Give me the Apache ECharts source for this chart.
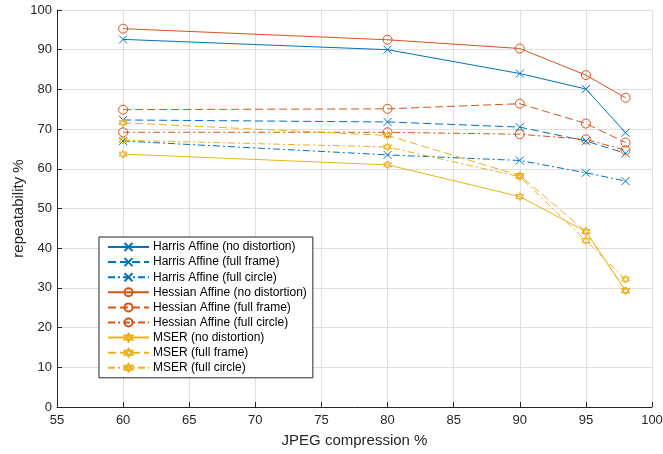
<!DOCTYPE html>
<html>
<head>
<meta charset="utf-8">
<script src="https://cdn.jsdelivr.net/npm/echarts@6/dist/echarts.min.js"></script>
<style>
  html, body { margin: 0; padding: 0; background: #fff; }
  #chart { width: 663px; height: 454px; }
</style>
</head>
<body>
<div id="chart"></div>
<script>
// JPEG quality levels on the x axis
const quality = [60, 80, 90, 95, 98];

// repeatability %, one array per detector / distortion case
const harrisNone   = [92.6, 90.0, 84.0, 80.1, 69.1];
const harrisFrame  = [72.3, 71.8, 70.5, 67.0, 63.9];
const harrisCircle = [67.0, 63.5, 62.1, 59.0, 56.9];
const hessNone     = [95.3, 92.5, 90.3, 83.6, 77.9];
const hessFrame    = [74.9, 75.1, 76.4, 71.4, 66.6];
const hessCircle   = [69.2, 69.2, 68.7, 67.4, 64.7];
const mserNone     = [63.7, 61.0, 53.0, 44.2, 29.3];
const mserFrame    = [71.6, 68.4, 58.3, 44.2, 29.3];
const mserCircle   = [67.2, 65.5, 58.0, 41.9, 32.2];

const seriesNames = [
    'Harris Affine (no distortion)',
    'Harris Affine (full frame)',
    'Harris Affine (full circle)',
    'Hessian Affine (no distortion)',
    'Hessian Affine (full frame)',
    'Hessian Affine (full circle)',
    'MSER (no distortion)',
    'MSER (full frame)',
    'MSER (full circle)'
];
const seriesValues = [harrisNone, harrisFrame, harrisCircle, hessNone, hessFrame, hessCircle, mserNone, mserFrame, mserCircle];

const BLUE = '#0072BD', ORANGE = '#D95319', YELLOW = '#EDB120';
const CROSS = 'path://M0,0L10,10M10,0L0,10';
const HEXAGRAM = 'path://M5,0L9.33,7.5L0.67,7.5ZM5,10L0.67,2.5L9.33,2.5Z';
const DASH = [8, 4];
const DASHDOT = [7, 3, 2, 3];

// colour / marker / line style for each series
const looks = [
    [BLUE, CROSS, 'solid'], [BLUE, CROSS, DASH], [BLUE, CROSS, DASHDOT],
    [ORANGE, 'circle', 'solid'], [ORANGE, 'circle', DASH], [ORANGE, 'circle', DASHDOT],
    [YELLOW, HEXAGRAM, 'solid'], [YELLOW, HEXAGRAM, DASH], [YELLOW, HEXAGRAM, DASHDOT]
];

const FONT = 'Liberation Sans';
const TXT = '#262626';

const chart = echarts.init(document.getElementById('chart'));

const series = seriesNames.map((name, i) => {
    const [c, sym, lt] = looks[i];
    return {
        name: name,
        type: 'line',
        data: quality.map((q, k) => [q, seriesValues[i][k]]),
        symbol: sym,
        symbolSize: sym === 'circle' ? 9 : 8,
        showAllSymbol: true,
        lineStyle: { color: c, width: 1, type: lt },
        itemStyle: { color: 'rgba(255,255,255,0)', borderColor: c, borderWidth: 1 },
        emphasis: { disabled: true },
        animation: false
    };
});

chart.setOption({
    backgroundColor: '#fff',
    textStyle: { fontFamily: FONT },
    grid: { left: 57, right: 11, top: 10, bottom: 47, outerBoundsMode: 'none' },
    xAxis: {
        type: 'value',
        min: 55, max: 100, interval: 5,
        name: 'JPEG compression %',
        nameLocation: 'middle',
        nameGap: 26,
        nameTextStyle: { color: TXT, fontSize: 15, fontFamily: FONT },
        axisLine: { lineStyle: { color: TXT, width: 1 } },
        axisTick: { inside: true, length: 5, lineStyle: { color: TXT } },
        axisLabel: { color: TXT, fontSize: 13, margin: 7, fontFamily: FONT },
        splitLine: { show: true, lineStyle: { color: '#dfdfdf', width: 1 } }
    },
    yAxis: {
        type: 'value',
        min: 0, max: 100, interval: 10,
        name: 'repeatability %',
        nameLocation: 'middle',
        nameGap: 31,
        nameMoveOverlap: false,
        nameTextStyle: { color: TXT, fontSize: 15, fontFamily: FONT },
        axisLine: { show: true, lineStyle: { color: TXT, width: 1 } },
        axisTick: { show: true, inside: true, length: 5, lineStyle: { color: TXT } },
        axisLabel: { color: TXT, fontSize: 13, margin: 5, fontFamily: FONT },
        splitLine: { show: true, lineStyle: { color: '#dfdfdf', width: 1 } }
    },
    legend: {
        orient: 'vertical',
        left: 99,
        top: 237,
        padding: [4, 6, 4, 8],
        itemWidth: 41,
        itemHeight: 10,
        itemGap: 3.1,
        backgroundColor: '#fff',
        borderColor: TXT,
        borderWidth: 1,
        textStyle: { color: '#000', fontSize: 12, fontFamily: FONT, padding: [0, 0, 0, -1] },
        data: seriesNames
    },
    series: series
});
</script>
</body>
</html>
